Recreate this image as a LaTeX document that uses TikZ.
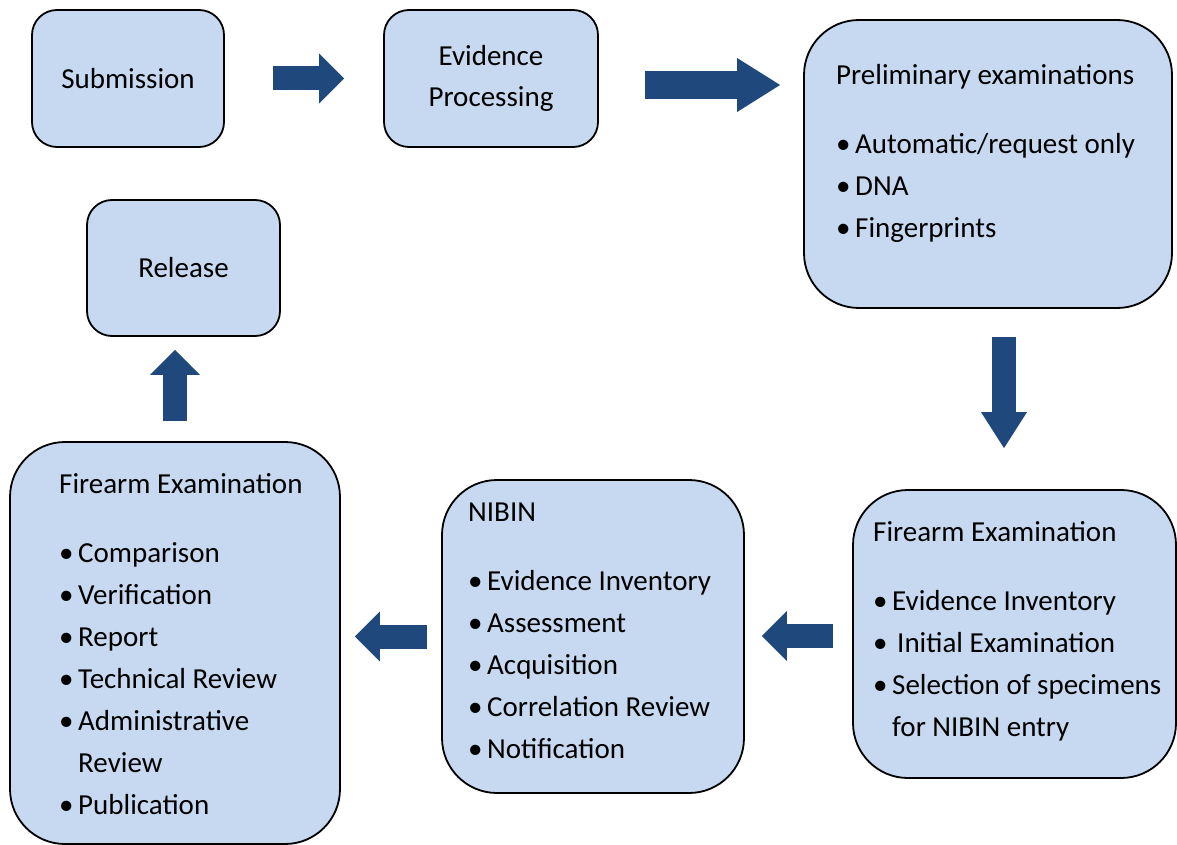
\documentclass[tikz,border=0pt]{standalone}
\usepackage{fontspec}
\setmainfont{Carlito}
\usepackage{tikz}
\usetikzlibrary{arrows.meta}
\usepackage{xcolor}
\definecolor{boxblue}{HTML}{C6D9F1}
\definecolor{arrowblue}{HTML}{1F497D}
\newcommand{\itm}[1]{\makebox[19pt][l]{\textbullet}#1}

\begin{document}
\begin{tikzpicture}[x=1pt, y=-1pt,
    box/.style={draw=black, line width=1.8pt, fill=boxblue, rounded corners=25pt,
        align=center, font=\fontsize{29}{41}\selectfont},
    bigbox/.style={box, rounded corners=55pt},
    txt/.style={anchor=base west, align=left, inner sep=0pt,
        font=\fontsize{29}{42}\selectfont},
    blockarrow/.style={arrowblue, line width=24pt,
        -{Triangle[length=25pt 0 0, width=50pt 0 0, line width=0pt 0 0]}}]
    \useasboundingbox (0,0) rectangle (1177,845);
    % top row (text nodes sit on the baseline of their last line)
    \node[box, minimum width=192pt, minimum height=137pt] (sub) at (128,78.5) {Submission};
    \node[box, minimum width=214pt, minimum height=137pt] (evid) at (491,78.5) {Evidence\\Processing};
    \node[bigbox, minimum width=368pt, minimum height=288pt] (prelim) at (988,164) {};
    \node[txt] (prelim-txt) at (836,237) {Preliminary examinations\\[27pt]
        \itm{Automatic/request only}\\ \itm{DNA}\\ \itm{Fingerprints}};
    \node[box, minimum width=193pt, minimum height=136pt] (rel) at (183.5,268) {Release};
    % bottom row
    \node[bigbox, minimum width=323pt, minimum height=288pt] (frr) at (1014.5,634) {};
    \node[txt] (frr-txt) at (873,736) {Firearm Examination\\[27pt]
        \itm{Evidence Inventory}\\ \itm{\hspace{5pt}Initial Examination}\\
        \itm{Selection of specimens}\\ \hspace*{19pt}for NIBIN entry};
    \node[bigbox, minimum width=302pt, minimum height=313pt] (nib) at (593,636.5) {};
    \node[txt] (nib-txt) at (468,758) {NIBIN\\[27pt]
        \itm{Evidence Inventory}\\ \itm{Assessment}\\ \itm{Acquisition}\\
        \itm{Correlation Review}\\ \itm{Notification}};
    \node[bigbox, minimum width=330pt, minimum height=402pt] (fl) at (175,643) {};
    \node[txt] (fl-txt) at (59,814) {Firearm Examination\\[27pt]
        \itm{Comparison}\\ \itm{Verification}\\ \itm{Report}\\
        \itm{Technical Review}\\ \itm{Administrative}\\
        \hspace*{19pt}Review\\ \itm{Publication}};
    % arrows
    \draw[blockarrow, shorten <=48pt, shorten >=39pt] (sub.east) -- (evid.west);
    \draw[blockarrow, line width=28pt, -{Triangle[length=43pt 0 0, width=54pt 0 0, line width=0pt 0 0]},
        shorten <=46pt, shorten >=23pt] ([yshift=-6.5pt]evid.east) -- ([yshift=-6.5pt]evid.east -| prelim.west);
    \draw[blockarrow, -{Triangle[length=36pt 0 0, width=46pt 0 0, line width=0pt 0 0]},
        shorten <=28pt, shorten >=41pt] ([xshift=16pt]prelim.south) -- ([xshift=16pt]prelim.south |- frr.north);
    \draw[blockarrow, shorten <=19pt, shorten >=17pt] ([yshift=-2pt]frr.west) -- ([yshift=-2pt]frr.west -| nib.east);
    \draw[blockarrow, shorten <=14pt, shorten >=14pt] (nib.west) -- (nib.west -| fl.east);
    \draw[blockarrow, shorten <=20pt, shorten >=13pt] (fl.north) -- (fl.north |- rel.south);
\end{tikzpicture}
\end{document}
